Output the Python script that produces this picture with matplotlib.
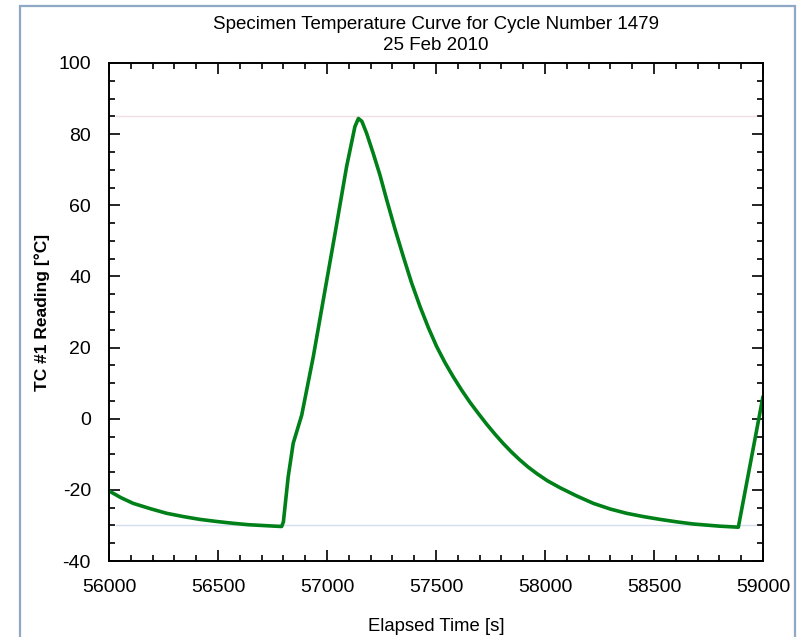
import numpy as np
import matplotlib
matplotlib.use("Agg")
import matplotlib.pyplot as plt
from matplotlib.patches import Rectangle
from matplotlib.ticker import MultipleLocator

plt.rcParams["font.family"] = ["Liberation Sans", "DejaVu Sans"]
plt.rcParams["axes.unicode_minus"] = False

# Elapsed time [s] and TC #1 reading [°C]
TIME = [56000, 56055, 56111, 56190, 56265, 56340, 56417, 56495, 56570, 56640,
        56700, 56760, 56792, 56800, 56822, 56845, 56884, 56937, 56983, 57037,
        57090, 57128, 57144, 57160, 57182, 57212, 57243, 57274, 57312, 57350,
        57388, 57427, 57465, 57503, 57541, 57579, 57617, 57656, 57694, 57732,
        57770, 57809, 57847, 57885, 57923, 57962, 58010, 58069, 58145, 58222,
        58300, 58375, 58450, 58528, 58605, 58681, 58800, 58887, 59000]
TEMP = [-20.3, -22.2, -23.8, -25.3, -26.6, -27.5, -28.3, -28.9, -29.4, -29.8,
        -30.0, -30.2, -30.3, -29.0, -16.3, -6.9, 1.0, 17.4, 33.4, 52.1,
        70.9, 82.1, 84.4, 83.6, 80.2, 74.6, 68.5, 61.5, 53.3, 45.6,
        38.2, 31.5, 25.6, 20.3, 15.8, 11.8, 8.1, 4.6, 1.5, -1.5,
        -4.3, -7.0, -9.4, -11.6, -13.6, -15.4, -17.4, -19.4, -21.7, -23.8,
        -25.4, -26.6, -27.5, -28.3, -29.0, -29.6, -30.2, -30.5, 6.2]
UPPER_LIMIT = 85
LOWER_LIMIT = -30

fig = plt.figure(figsize=(7.98, 6.37), dpi=100)
ax = fig.add_axes([0.1366, 0.1193, 0.8195, 0.7818])

ax.axhline(UPPER_LIMIT, xmin=0.01, xmax=0.99, color="#f0e0e2", lw=1.0)
ax.axhline(LOWER_LIMIT, xmin=0.01, xmax=0.99, color="#d4dcf0", lw=1.0)
ax.plot(TIME, TEMP, color="#008018", lw=2.6, solid_joinstyle="round",
        solid_capstyle="round")

ax.set_xlim(56000, 59000)
ax.set_ylim(-40, 100)
ax.xaxis.set_major_locator(MultipleLocator(500))
ax.xaxis.set_minor_locator(MultipleLocator(100))
ax.yaxis.set_major_locator(MultipleLocator(20))
ax.yaxis.set_minor_locator(MultipleLocator(5))
ax.tick_params(which="both", direction="in", top=True, right=True,
               width=1.2, labelsize=14)
ax.tick_params(axis="x", pad=13)
ax.tick_params(axis="y", pad=13)
ax.tick_params(which="major", length=8)
ax.tick_params(which="minor", length=4.5)
for s in ax.spines.values():
    s.set_linewidth(1.4)

ax.set_title("Specimen Temperature Curve for Cycle Number 1479\n25 Feb 2010",
             fontsize=13.5, pad=9, linespacing=1.35)
ax.set_xlabel("Elapsed Time [s]", fontsize=13.3, labelpad=16)
ax.set_ylabel("TC #1 Reading [°C]", fontsize=12.5, fontweight="bold", labelpad=6)

# light frame around the figure (bottom edge runs off the image)
fig.patches.append(Rectangle((20 / 798, -0.05), 775 / 798, 1.05 - 6 / 637,
                             transform=fig.transFigure, fill=False,
                             edgecolor="#8ea8c6", lw=1.6, clip_on=False))

fig.savefig("out.png", dpi=100)
